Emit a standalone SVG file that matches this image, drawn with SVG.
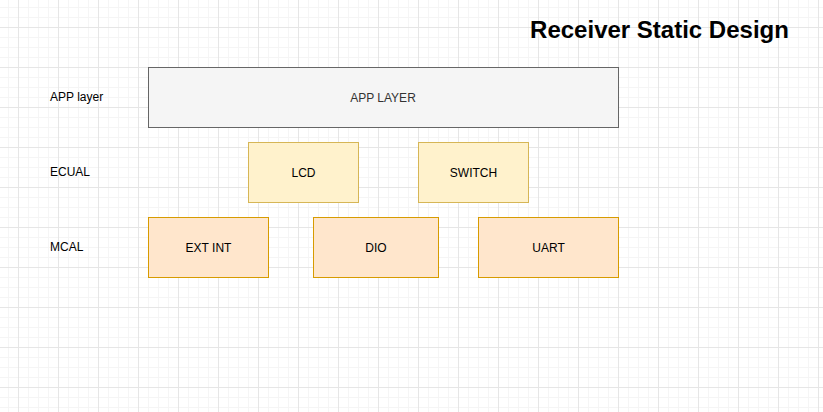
<svg xmlns="http://www.w3.org/2000/svg" width="823" height="412" viewBox="0 0 823 412">
  <defs>
    <pattern id="minor" x="8" y="7" width="10" height="10" patternUnits="userSpaceOnUse">
      <path d="M0 0.5H10M0.5 0V10" fill="none" stroke="#f5f5f5" stroke-width="1"/>
    </pattern>
    <pattern id="major" x="18" y="27" width="40" height="40" patternUnits="userSpaceOnUse">
      <path d="M0 0.5H40M0.5 0V40" fill="none" stroke="#e6e6e6" stroke-width="1"/>
    </pattern>
  </defs>
  <style>
    text { font-family: "Liberation Sans", Arial, Helvetica, sans-serif; font-size: 12px; }
    .lbl { fill: #000000; }
    .ctr { text-anchor: middle; fill: #000000; }
    .app rect { fill: #f5f5f5; stroke: #666666; stroke-width: 1; }
    .app text { fill: #333333; }
    .ecu rect { fill: #fff2cc; stroke: #d6b656; stroke-width: 1; }
    .mcal rect { fill: #ffe6cc; stroke: #d79b00; stroke-width: 1; }
    .title { font-size: 24px; font-weight: bold; text-anchor: middle; fill: #000000; }
  </style>
  <rect width="823" height="412" fill="#ffffff"/>
  <rect width="823" height="412" fill="url(#minor)"/>
  <rect width="823" height="412" fill="url(#major)"/>

  <g id="title"><text class="title" x="659.5" y="38">Receiver Static Design</text></g>

  <g id="label-app"><text class="lbl" x="50" y="101">APP layer</text></g>
  <g id="label-ecual"><text class="lbl" x="50" y="176">ECUAL</text></g>
  <g id="label-mcal"><text class="lbl" x="50" y="251">MCAL</text></g>

  <g id="app-layer" class="app">
    <rect x="148.5" y="67.5" width="470" height="60"/>
    <text class="ctr" x="383" y="101.5" style="fill:#333333">APP LAYER</text>
  </g>

  <g id="lcd" class="ecu">
    <rect x="248.5" y="142.5" width="110" height="60"/>
    <text class="ctr" x="303.5" y="176.5">LCD</text>
  </g>
  <g id="switch" class="ecu">
    <rect x="418.5" y="142.5" width="110" height="60"/>
    <text class="ctr" x="473.5" y="176.5">SWITCH</text>
  </g>

  <g id="ext-int" class="mcal">
    <rect x="148.5" y="217.5" width="120" height="60"/>
    <text class="ctr" x="208.5" y="251.5">EXT INT</text>
  </g>
  <g id="dio" class="mcal">
    <rect x="313.5" y="217.5" width="125" height="60"/>
    <text class="ctr" x="376" y="251.5">DIO</text>
  </g>
  <g id="uart" class="mcal">
    <rect x="478.5" y="217.5" width="140" height="60"/>
    <text class="ctr" x="548.5" y="251.5">UART</text>
  </g>

  <g id="connectors"></g>
</svg>
